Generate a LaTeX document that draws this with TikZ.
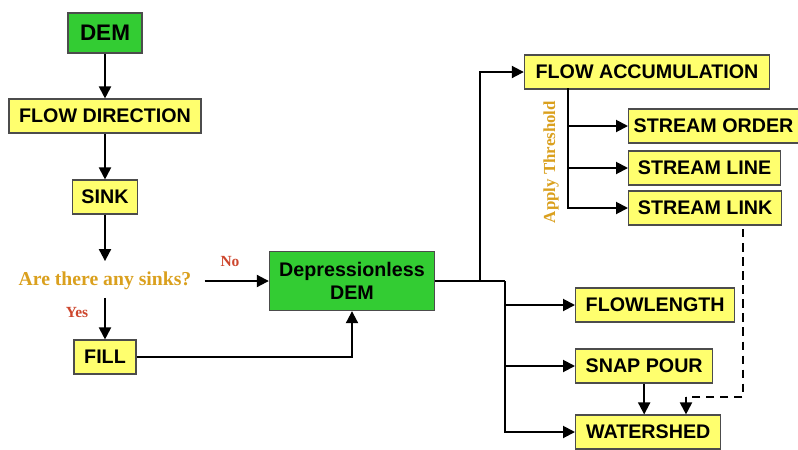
\documentclass[tikz,border=0pt]{standalone}
\usepackage{fontspec}
\setmainfont{Liberation Serif}
\setsansfont{Liberation Sans}
\usepackage{xcolor}
\definecolor{boxyellow}{RGB}{255,255,110}
\definecolor{boxgreen}{RGB}{51,204,51}
\definecolor{askgold}{RGB}{218,160,30}
\definecolor{ansred}{RGB}{205,70,45}
\usetikzlibrary{arrows.meta,positioning,calc}

\begin{document}
\begin{tikzpicture}[x=0.025cm, y=-0.025cm,
  box/.style={draw=black!70, line width=0.8pt, fill=boxyellow, minimum height=0.85cm, inner sep=2pt, font=\sffamily\bfseries\fontsize{14}{16}\selectfont},
  gbox/.style={box, fill=boxgreen, align=center},
  arr/.style={line width=1.4pt, -{Triangle[length=3mm,width=3mm]}},
  link/.style={line width=1.4pt},
  ask/.style={font=\rmfamily\bfseries\fontsize{14}{16}\selectfont, text=askgold},
  answer/.style={font=\rmfamily\bfseries\fontsize{11}{13}\selectfont, text=ansred}]
  \useasboundingbox (0,0) rectangle (798,449);
  % left column
  \node[gbox, minimum width=1.85cm, minimum height=1cm, font=\sffamily\bfseries\fontsize{16}{18}\selectfont] (dem) at (105,33) {DEM};
  \node[box, minimum width=4.8cm] (flowdir) at (105,116) {FLOW DIRECTION};
  \node[box, minimum width=1.63cm] (sink) at (105,197) {SINK};
  \node[ask] (anysinks) at (105,281) {Are there any sinks?};
  \node[box, minimum width=1.55cm] (fill) at (105,357) {FILL};
  \node[gbox, minimum width=4.13cm, minimum height=1.48cm] (depdem) at (352,281) {Depressionless\\DEM};
  \node[answer] (no) at (230,262) {No};
  \node[answer] (yes) at (77,313) {Yes};
  % right side
  \node[box, minimum width=6.13cm] (flowacc) at (647,72) {FLOW ACCUMULATION};
  \node[box, minimum width=4.25cm, anchor=west] (sorder) at (628,126) {STREAM ORDER};
  \node[box, minimum width=3.8cm, anchor=west] (sline) at (628,168) {STREAM LINE};
  \node[box, minimum width=3.83cm, anchor=west] (slink) at (628,208) {STREAM LINK};
  \node[box, minimum width=3.98cm, anchor=west] (flowlen) at (575,305) {FLOWLENGTH};
  \node[box, minimum width=3.43cm, anchor=west] (snap) at (575,366) {SNAP POUR};
  \node[box, minimum width=3.63cm, anchor=west] (watershed) at (575,432) {WATERSHED};
  \node[font=\rmfamily\bfseries\fontsize{12}{14}\selectfont, text=askgold, rotate=90] (thresh) at (551,162) {Apply Threshold};
  \coordinate (splitup) at (480,281);
  \coordinate (splitdown) at (505,281);
  \coordinate (thr) at (568,88);
  \coordinate (dashtop) at (743,229);
  \coordinate (dashturn) at (743,397);
  \coordinate (dashend) at (686,397);

  \draw[arr] (dem) -- (flowdir);
  \draw[arr] (flowdir) -- (sink);
  \draw[arr] (sink) -- ($(anysinks.north)+(0,-6)$);
  \draw[arr] ($(anysinks.south)+(0,3)$) -- (fill);
  \draw[arr, shorten <=6pt] (anysinks.east) -- (depdem.west);
  \draw[arr] (fill.east) -| (depdem.south);
  \draw[link] (depdem.east) -- (splitdown);
  \draw[arr] (splitup) |- (flowacc.west);
  \draw[arr] (splitdown) |- (flowlen.west);
  \draw[arr] (splitdown) |- (snap.west);
  \draw[arr] (splitdown) |- (watershed.west);
  \draw[arr] (thr) |- (sorder.west);
  \draw[arr] (thr) |- (sline.west);
  \draw[arr] (thr) |- (slink.west);
  \draw[arr] (snap.south) -- (snap.south |- watershed.north);
  \draw[link, dashed, dash pattern=on 6pt off 4pt] (dashtop) -- (dashturn) -- (dashend);
  \draw[arr] (dashend) -- (dashend |- watershed.north);
\end{tikzpicture}
\end{document}
